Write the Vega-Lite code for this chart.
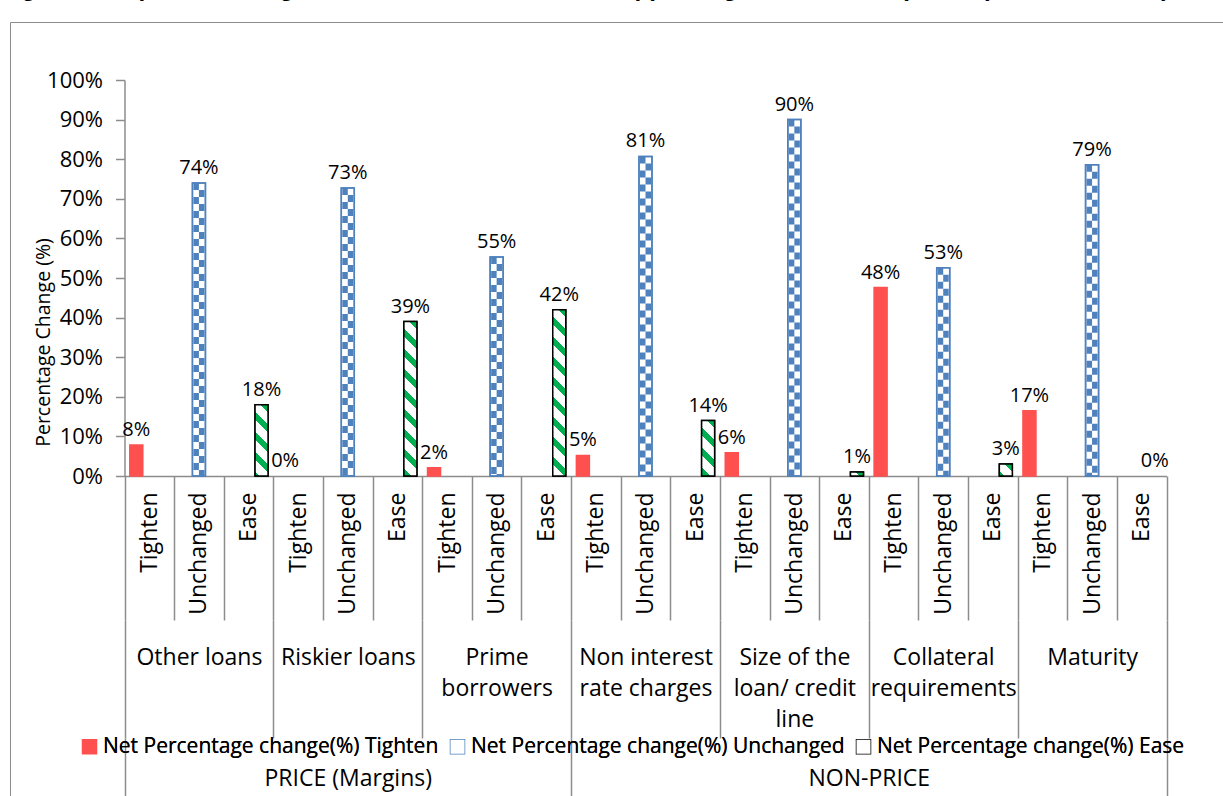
{
  "$schema": "https://vega.github.io/schema/vega-lite/v6.json",
  "width": 1220,
  "height": 780,
  "autosize": "none",
  "padding": {"left": 10, "top": 22, "right": -7, "bottom": -6},
  "background": "white",
  "config": {
    "view": {"stroke": "#8c8c8c", "strokeWidth": 1},
    "font": "Open Sans",
    "axis": {"labelFont": "Open Sans", "labelColor": "#000000", "titleFont": "Open Sans", "titleColor": "#000000", "domainColor": "#8c8c8c", "tickColor": "#8c8c8c", "domainWidth": 1.5, "tickWidth": 1.5, "grid": false},
    "legend": {"labelFont": "Open Sans", "labelColor": "#000000"}
  },
  "title": {"text": "Figure 6: Expected changes in terms & conditions for approving loans to enterprises (Jan – Mar 2016)", "font": "Liberation Sans", "fontSize": 24.2, "fontWeight": "bold", "color": "#000000", "anchor": "start", "frame": "group", "orient": "top", "offset": 2, "baseline": "alphabetic", "dx": -10},
  "data": {"values": [
    {"group": "PRICE (Margins)", "item": "Other loans", "series": "Tighten", "slot": "Other loans|Tighten", "value": 0.078},
    {"group": "PRICE (Margins)", "item": "Other loans", "series": "Unchanged", "slot": "Other loans|Unchanged", "value": 0.74},
    {"group": "PRICE (Margins)", "item": "Other loans", "series": "Ease", "slot": "Other loans|Ease", "value": 0.18},
    {"group": "PRICE (Margins)", "item": "Riskier loans", "series": "Tighten", "slot": "Riskier loans|Tighten", "value": 0},
    {"group": "PRICE (Margins)", "item": "Riskier loans", "series": "Unchanged", "slot": "Riskier loans|Unchanged", "value": 0.727},
    {"group": "PRICE (Margins)", "item": "Riskier loans", "series": "Ease", "slot": "Riskier loans|Ease", "value": 0.39},
    {"group": "PRICE (Margins)", "item": "Prime borrowers", "series": "Tighten", "slot": "Prime borrowers|Tighten", "value": 0.021},
    {"group": "PRICE (Margins)", "item": "Prime borrowers", "series": "Unchanged", "slot": "Prime borrowers|Unchanged", "value": 0.553},
    {"group": "PRICE (Margins)", "item": "Prime borrowers", "series": "Ease", "slot": "Prime borrowers|Ease", "value": 0.42},
    {"group": "NON-PRICE", "item": "Non interest rate charges", "series": "Tighten", "slot": "Non interest rate charges|Tighten", "value": 0.052},
    {"group": "NON-PRICE", "item": "Non interest rate charges", "series": "Unchanged", "slot": "Non interest rate charges|Unchanged", "value": 0.807},
    {"group": "NON-PRICE", "item": "Non interest rate charges", "series": "Ease", "slot": "Non interest rate charges|Ease", "value": 0.14},
    {"group": "NON-PRICE", "item": "Size of the loan/ credit line", "series": "Tighten", "slot": "Size of the loan/ credit line|Tighten", "value": 0.059},
    {"group": "NON-PRICE", "item": "Size of the loan/ credit line", "series": "Unchanged", "slot": "Size of the loan/ credit line|Unchanged", "value": 0.9},
    {"group": "NON-PRICE", "item": "Size of the loan/ credit line", "series": "Ease", "slot": "Size of the loan/ credit line|Ease", "value": 0.01},
    {"group": "NON-PRICE", "item": "Collateral requirements", "series": "Tighten", "slot": "Collateral requirements|Tighten", "value": 0.476},
    {"group": "NON-PRICE", "item": "Collateral requirements", "series": "Unchanged", "slot": "Collateral requirements|Unchanged", "value": 0.526},
    {"group": "NON-PRICE", "item": "Collateral requirements", "series": "Ease", "slot": "Collateral requirements|Ease", "value": 0.03},
    {"group": "NON-PRICE", "item": "Maturity", "series": "Tighten", "slot": "Maturity|Tighten", "value": 0.165},
    {"group": "NON-PRICE", "item": "Maturity", "series": "Unchanged", "slot": "Maturity|Unchanged", "value": 0.786},
    {"group": "NON-PRICE", "item": "Maturity", "series": "Ease", "slot": "Maturity|Ease", "value": 0}
  ]},
  "encoding": {
    "y": {
      "field": "value", "type": "quantitative",
      "scale": {"domain": [0, 1], "range": [454, 58], "nice": false, "zero": true},
      "axis": {"values": [0, 0.1, 0.2, 0.3, 0.4, 0.5, 0.6, 0.7, 0.8, 0.9, 1], "format": ".0%", "offset": -114.5, "tickSize": 9, "labelFontSize": 22, "labelPadding": 13, "title": "Percentage Change (%)", "titleFontSize": 19.5, "titleFontWeight": "normal", "titleAngle": 270, "titleX": -81.5, "titleY": 320, "titleAlign": "center", "titleBaseline": "middle"}
    }
  },
  "layer": [
    {
      "encoding": {
        "x": {
          "field": "slot", "type": "nominal", "sort": null,
          "scale": {"type": "band", "domain": [
            "Other loans|Tighten", "Other loans|Unchanged", "Other loans|Ease",
            "Riskier loans|Tighten", "Riskier loans|Unchanged", "Riskier loans|Ease",
            "Prime borrowers|Tighten", "Prime borrowers|Unchanged", "Prime borrowers|Ease",
            "Non interest rate charges|Tighten", "Non interest rate charges|Unchanged", "Non interest rate charges|Ease",
            "Size of the loan/ credit line|Tighten", "Size of the loan/ credit line|Unchanged", "Size of the loan/ credit line|Ease",
            "Collateral requirements|Tighten", "Collateral requirements|Unchanged", "Collateral requirements|Ease",
            "Maturity|Tighten", "Maturity|Unchanged", "Maturity|Ease"
          ], "range": [114.5, 1156.5], "paddingInner": 0, "paddingOuter": 0},
          "axis": {"orient": "bottom", "offset": -326, "tickBand": "extent", "tickSize": 144, "labelAngle": 270, "labelAlign": "right", "labelBaseline": "middle", "labelPadding": -128, "labelFontSize": 23, "labelExpr": "split(datum.label, '|')[1]", "labelOverlap": false, "labelLimit": 0, "title": null}
        },
        "xOffset": {"field": "series", "type": "nominal", "scale": {"domain": ["Tighten", "Unchanged", "Ease"], "paddingInner": 0, "paddingOuter": 0.4085}}
      },
      "layer": [
        {
          "mark": {"type": "bar", "strokeWidth": 1.5},
          "encoding": {
            "strokeOpacity": {"condition": {"test": "datum.value == 0", "value": 0}, "value": 1},
            "fill": {
              "field": "series", "type": "nominal",
              "scale": {"domain": ["Tighten", "Unchanged", "Ease"], "range": ["#ff5050", "#ffffff", "#ffffff"]},
              "legend": {"orient": "none", "legendX": 69, "legendY": 714, "direction": "horizontal", "columns": 3, "title": null, "symbolType": "square", "symbolSize": 196, "symbolStrokeWidth": 1.5, "labelFontSize": 21, "labelOffset": 3, "columnPadding": 8, "labelLimit": 0, "padding": 0, "labelExpr": "'Net Percentage change(%) ' + datum.label"}
            },
            "stroke": {
              "field": "series", "type": "nominal",
              "scale": {"domain": ["Tighten", "Unchanged", "Ease"], "range": ["#ff5050", "#4f81bd", "#000000"]},
              "legend": {"orient": "none", "legendX": 69, "legendY": 714, "direction": "horizontal", "columns": 3, "title": null, "symbolType": "square", "symbolSize": 196, "symbolStrokeWidth": 1.5, "labelFontSize": 21, "labelOffset": 3, "columnPadding": 8, "labelLimit": 0, "padding": 0, "labelExpr": "'Net Percentage change(%) ' + datum.label"}
            }
          }
        },
        {
          "transform": [{"filter": "datum.series == 'Ease'"}],
          "mark": {"type": "bar", "strokeWidth": 0},
          "encoding": {
            "fill": {
              "field": "item", "type": "nominal", "legend": null,
              "scale": {
                "domain": ["Other loans", "Riskier loans", "Prime borrowers", "Non interest rate charges", "Size of the loan/ credit line", "Collateral requirements", "Maturity"],
                "range": [
                  {"expr": "{gradient: 'linear', x1: 1, y1: 0, x2: 0.7913, y2: 1.1443, stops: [{offset: 0, color: '#00b050'}, {offset: 0.0949, color: '#00b050'}, {offset: 0.0949, color: '#ffffff'}, {offset: 0.2373, color: '#ffffff'}, {offset: 0.2373, color: '#00b050'}, {offset: 0.3322, color: '#00b050'}, {offset: 0.3322, color: '#ffffff'}, {offset: 0.4746, color: '#ffffff'}, {offset: 0.4746, color: '#00b050'}, {offset: 0.5695, color: '#00b050'}, {offset: 0.5695, color: '#ffffff'}, {offset: 0.7119, color: '#ffffff'}, {offset: 0.7119, color: '#00b050'}, {offset: 0.8068, color: '#00b050'}, {offset: 0.8068, color: '#ffffff'}, {offset: 0.9492, color: '#ffffff'}, {offset: 0.9492, color: '#00b050'}, {offset: 1, color: '#00b050'}]}"},
                  {"expr": "{gradient: 'linear', x1: 1, y1: 0, x2: 0.9094, y2: 1.0765, stops: [{offset: 0, color: '#00b050'}, {offset: 0.0478, color: '#00b050'}, {offset: 0.0478, color: '#ffffff'}, {offset: 0.1194, color: '#ffffff'}, {offset: 0.1194, color: '#00b050'}, {offset: 0.1672, color: '#00b050'}, {offset: 0.1672, color: '#ffffff'}, {offset: 0.2389, color: '#ffffff'}, {offset: 0.2389, color: '#00b050'}, {offset: 0.2867, color: '#00b050'}, {offset: 0.2867, color: '#ffffff'}, {offset: 0.3583, color: '#ffffff'}, {offset: 0.3583, color: '#00b050'}, {offset: 0.4061, color: '#00b050'}, {offset: 0.4061, color: '#ffffff'}, {offset: 0.4778, color: '#ffffff'}, {offset: 0.4778, color: '#00b050'}, {offset: 0.5256, color: '#00b050'}, {offset: 0.5256, color: '#ffffff'}, {offset: 0.5972, color: '#ffffff'}, {offset: 0.5972, color: '#00b050'}, {offset: 0.645, color: '#00b050'}, {offset: 0.645, color: '#ffffff'}, {offset: 0.7167, color: '#ffffff'}, {offset: 0.7167, color: '#00b050'}, {offset: 0.7645, color: '#00b050'}, {offset: 0.7645, color: '#ffffff'}, {offset: 0.8361, color: '#ffffff'}, {offset: 0.8361, color: '#00b050'}, {offset: 0.8839, color: '#00b050'}, {offset: 0.8839, color: '#ffffff'}, {offset: 0.9556, color: '#ffffff'}, {offset: 0.9556, color: '#00b050'}, {offset: 1, color: '#00b050'}]}"},
                  {"expr": "{gradient: 'linear', x1: 1, y1: 0, x2: 0.9162, y2: 1.0716, stops: [{offset: 0, color: '#00b050'}, {offset: 0.0446, color: '#00b050'}, {offset: 0.0446, color: '#ffffff'}, {offset: 0.1115, color: '#ffffff'}, {offset: 0.1115, color: '#00b050'}, {offset: 0.1561, color: '#00b050'}, {offset: 0.1561, color: '#ffffff'}, {offset: 0.2231, color: '#ffffff'}, {offset: 0.2231, color: '#00b050'}, {offset: 0.2677, color: '#00b050'}, {offset: 0.2677, color: '#ffffff'}, {offset: 0.3346, color: '#ffffff'}, {offset: 0.3346, color: '#00b050'}, {offset: 0.3792, color: '#00b050'}, {offset: 0.3792, color: '#ffffff'}, {offset: 0.4461, color: '#ffffff'}, {offset: 0.4461, color: '#00b050'}, {offset: 0.4907, color: '#00b050'}, {offset: 0.4907, color: '#ffffff'}, {offset: 0.5577, color: '#ffffff'}, {offset: 0.5577, color: '#00b050'}, {offset: 0.6023, color: '#00b050'}, {offset: 0.6023, color: '#ffffff'}, {offset: 0.6692, color: '#ffffff'}, {offset: 0.6692, color: '#00b050'}, {offset: 0.7138, color: '#00b050'}, {offset: 0.7138, color: '#ffffff'}, {offset: 0.7807, color: '#ffffff'}, {offset: 0.7807, color: '#00b050'}, {offset: 0.8253, color: '#00b050'}, {offset: 0.8253, color: '#ffffff'}, {offset: 0.8923, color: '#ffffff'}, {offset: 0.8923, color: '#00b050'}, {offset: 0.9369, color: '#00b050'}, {offset: 0.9369, color: '#ffffff'}, {offset: 1, color: '#ffffff'}]}"},
                  {"expr": "{gradient: 'linear', x1: 1, y1: 0, x2: 0.7256, y2: 1.1701, stops: [{offset: 0, color: '#00b050'}, {offset: 0.1169, color: '#00b050'}, {offset: 0.1169, color: '#ffffff'}, {offset: 0.2922, color: '#ffffff'}, {offset: 0.2922, color: '#00b050'}, {offset: 0.4091, color: '#00b050'}, {offset: 0.4091, color: '#ffffff'}, {offset: 0.5845, color: '#ffffff'}, {offset: 0.5845, color: '#00b050'}, {offset: 0.7013, color: '#00b050'}, {offset: 0.7013, color: '#ffffff'}, {offset: 0.8767, color: '#ffffff'}, {offset: 0.8767, color: '#00b050'}, {offset: 0.9936, color: '#00b050'}, {offset: 0.9936, color: '#ffffff'}, {offset: 1, color: '#ffffff'}]}"},
                  {"expr": "{gradient: 'linear', x1: 1, y1: 0, x2: -0.194, y2: 0.3637, stops: [{offset: 0, color: '#00b050'}, {offset: 0.4717, color: '#00b050'}, {offset: 0.4717, color: '#ffffff'}, {offset: 1, color: '#ffffff'}]}"},
                  {"expr": "{gradient: 'linear', x1: 1, y1: 0, x2: -0.043, y2: 0.9531, stops: [{offset: 0, color: '#00b050'}, {offset: 0.3215, color: '#00b050'}, {offset: 0.3215, color: '#ffffff'}, {offset: 0.8039, color: '#ffffff'}, {offset: 0.8039, color: '#00b050'}, {offset: 1, color: '#00b050'}]}"},
                  {"expr": "'#ffffff'"}
                ]
              }
            }
          }
        },
        {
          "transform": [{"filter": "datum.series == 'Unchanged'"}],
          "mark": {"type": "rule", "stroke": "#4f81bd", "strokeWidth": 5.5, "strokeDash": [7, 7], "xOffset": -2.75},
          "encoding": {"xOffset": null, "y2": {"datum": 0}}
        },
        {
          "transform": [{"filter": "datum.series == 'Unchanged'"}],
          "mark": {"type": "rule", "stroke": "#4f81bd", "strokeWidth": 5.5, "strokeDash": [7, 7], "strokeDashOffset": 7, "xOffset": 2.75},
          "encoding": {"xOffset": null, "y2": {"datum": 0}}
        },
        {
          "transform": [{"filter": "datum.series == 'Unchanged'"}],
          "mark": {"type": "bar", "fillOpacity": 0, "fill": "#ffffff", "stroke": "#4f81bd", "strokeWidth": 1.5}
        },
        {
          "transform": [{"filter": "datum.series == 'Ease' && datum.value > 0"}],
          "mark": {"type": "bar", "fillOpacity": 0, "fill": "#ffffff", "stroke": "#000000", "strokeWidth": 1.5}
        },
        {
          "mark": {"type": "text", "fontSize": 20, "font": "Open Sans", "baseline": "alphabetic", "dy": -9, "color": "#000000"},
          "encoding": {
            "text": {"field": "value", "type": "quantitative", "format": ".0%"}
          }
        }
      ],
      "resolve": {"scale": {"fill": "independent"}}
    },
    {
      "mark": {"type": "bar", "opacity": 0},
      "encoding": {
        "x": {
          "field": "item", "type": "nominal", "sort": null,
          "scale": {"type": "band", "domain": ["Other loans", "Riskier loans", "Prime borrowers", "Non interest rate charges", "Size of the loan/ credit line", "Collateral requirements", "Maturity"], "range": [114.5, 1156.5], "paddingInner": 0, "paddingOuter": 0},
          "axis": {"orient": "bottom", "offset": -182, "domain": false, "tickBand": "extent", "tickSize": 118, "labelAngle": 0, "labelAlign": "center", "labelBaseline": "top", "labelPadding": -92, "labelFontSize": 23, "labelLineHeight": 31, "labelLimit": 0, "labelOverlap": false, "title": null,
            "labelExpr": "datum.label == 'Prime borrowers' ? ['Prime', 'borrowers'] : datum.label == 'Non interest rate charges' ? ['Non interest', 'rate charges'] : datum.label == 'Size of the loan/ credit line' ? ['Size of the', 'loan/ credit', 'line'] : datum.label == 'Collateral requirements' ? ['Collateral', 'requirements'] : datum.label"}
        }
      }
    },
    {
      "mark": {"type": "point", "opacity": 0},
      "encoding": {
        "x": {
          "datum": 0, "type": "quantitative",
          "scale": {"domain": [0, 21], "range": [114.5, 1156.5], "nice": false, "zero": false},
          "axis": {"orient": "bottom", "offset": -64, "domain": false, "values": [0, 4.5, 9, 15, 21], "tickSize": 70, "tickOpacity": {"condition": {"test": "datum.value == 4.5 || datum.value == 15", "value": 0}, "value": 1}, "labelBaseline": "middle", "labelAlign": "center", "labelPadding": -30, "labelFontSize": 23, "labelFlush": false, "labelOverlap": false, "labelLimit": 0, "title": null,
            "labelExpr": "datum.value == 4.5 ? 'PRICE (Margins)' : datum.value == 15 ? 'NON-PRICE' : ''"}
        }
      }
    }
  ],
  "resolve": {"scale": {"x": "independent"}, "axis": {"x": "independent"}}
}
